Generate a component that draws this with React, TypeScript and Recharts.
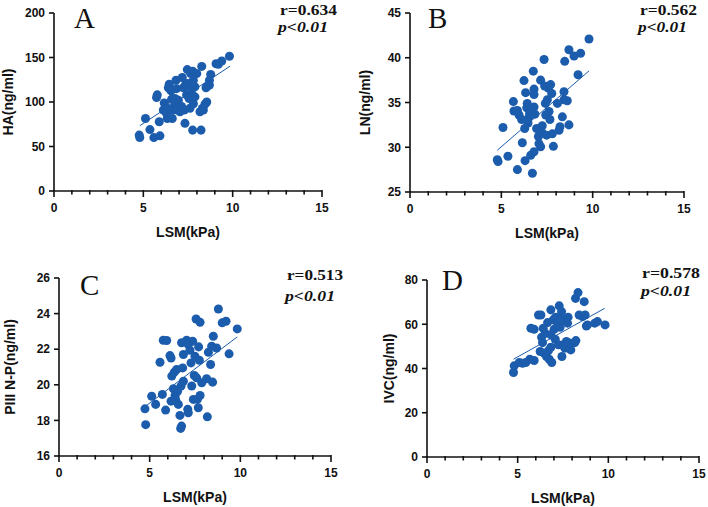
import React from "react";
import { ScatterChart, Scatter, XAxis, YAxis, ZAxis } from "recharts";

const BLUE = "#1c5cac";
const SANS = '"Liberation Sans", Arial, sans-serif';
const SERIF = '"Liberation Serif", "Times New Roman", serif';

// LSM axis, shared by all four panels
const lsmTicks = [0, 1, 2, 3, 4, 5, 6, 7, 8, 9, 10, 11, 12, 13, 14, 15];

// A: HA
const haTicks = [0, 50, 100, 150, 200];
const haPoints = [
  [4.77, 62.8], [4.8, 60], [5.12, 81.5], [5.37, 69], [5.59, 60], [5.93, 62], [5.89, 77.8],
  [5.74, 105], [5.78, 108], [6.17, 99], [6.25, 95], [6.3, 87], [6.34, 81.5], [6.4, 116],
  [6.45, 120], [6.55, 112.5], [6.58, 103], [6.68, 91], [6.71, 94.6], [6.62, 81.5], [6.83, 124.5],
  [6.86, 115], [6.92, 91], [7.05, 89], [7.18, 127.5], [7.24, 116], [7.29, 91], [7.33, 76],
  [7.42, 108], [7.46, 136.4], [7.52, 120.7], [7.56, 104], [7.61, 93], [7.65, 132], [7.67, 116],
  [7.7, 109.5], [7.76, 134.6], [7.8, 98], [7.89, 117], [7.76, 68.4], [7.89, 105.8], [7.99, 132],
  [8.17, 89], [8.23, 68.4], [8.27, 140], [8.36, 91], [8.45, 97.6], [8.51, 116], [8.58, 117.8],
  [8.7, 124.5], [8.77, 131], [8.7, 119], [9.07, 143], [9.2, 142.4], [9.39, 146], [9.82, 151.4],
  [8.55, 100], [8.3, 92.7], [6.96, 102], [7.14, 95], [6.12, 91], [6.77, 104], [7.38, 120.7],
  [7.8, 124.5],
];
const haFit = [[4.8, 73.3], [9.85, 140.2]];

// B: LN
const lnTicks = [25, 30, 35, 40, 45];
const lnPoints = [
  [4.78, 28.6], [4.82, 28.4], [5.09, 32.2], [5.36, 29], [5.69, 34.05], [5.66, 35.1], [5.88, 27.5],
  [5.97, 33.6], [6.11, 33.1], [6.15, 30.5], [6.24, 37.45], [6.33, 36.1], [6.28, 32.1], [6.3, 28.5],
  [6.39, 34.4], [6.42, 34.9], [6.46, 32.7], [6.55, 33.8], [6.61, 29.1], [6.7, 27.1], [6.75, 38.5],
  [6.79, 36.5], [6.79, 35.9], [6.79, 34.5], [6.79, 29.5], [6.84, 33.7], [6.93, 32.1], [7.03, 31.2],
  [7.06, 30.4], [7.15, 37.5], [7.24, 32.4], [7.24, 31.6], [7.34, 39.8], [7.37, 36.85], [7.41, 34.9],
  [7.43, 33.6], [7.48, 31.35], [7.52, 35.3], [7.57, 36.6], [7.61, 34], [7.66, 33.1], [7.7, 37],
  [7.76, 36], [7.79, 31.5], [7.85, 30.1], [8.07, 34.9], [8.16, 31.9], [8.21, 32.3], [8.34, 33.4],
  [8.43, 36.2], [8.43, 35.3], [8.61, 35.2], [8.7, 32.5], [8.47, 39.6], [8.7, 40.9], [8.98, 40.2],
  [9.34, 40.5], [9.2, 38.1], [9.8, 42.1], [7.15, 30.05], [6.7, 34.3], [5.88, 34.1], [6.52, 33.4],
];
const lnFit = [[4.78, 29.67], [9.8, 38.53]];

// C: PIII N-P
const p3Ticks = [16, 18, 20, 22, 24, 26];
const p3Points = [
  [4.74, 18.65], [4.78, 17.76], [5.11, 19.36], [5.33, 18.9], [5.57, 21.27], [5.7, 19.46],
  [5.75, 22.5], [5.94, 22.49], [5.88, 18.58], [6.12, 21.64], [6.18, 21.5], [6.18, 19.08],
  [6.22, 20.49], [6.31, 19.78], [6.36, 20.71], [6.4, 19.4], [6.43, 19.18], [6.49, 20.86],
  [6.54, 19.64], [6.58, 18.9], [6.67, 18.28], [6.71, 17.55], [6.76, 17.68], [6.76, 22.36],
  [6.73, 19.93], [6.82, 20.95], [6.86, 20.2], [7.04, 22.5], [7.1, 18.62], [7.13, 18.43],
  [7.22, 21.94], [7.28, 21.23], [7.32, 19.93], [7.37, 22.45], [7.41, 19.18], [7.46, 20.52],
  [7.5, 21.6], [7.56, 23.7], [7.59, 20.39], [7.63, 19.18], [7.7, 22.13], [7.78, 23.51],
  [7.74, 21.38], [7.68, 18.71], [7.78, 19.4], [7.87, 20.11], [8.14, 20.34], [8.18, 18.2],
  [8.24, 21.83], [8.36, 21.14], [8.42, 22.17], [8.47, 20.15], [8.51, 22.73], [8.69, 22.07],
  [8.79, 24.26], [9.0, 23.48], [9.21, 23.57], [9.38, 21.74], [9.83, 23.14], [7.13, 22.26],
  [6.86, 21.7],
];
const p3Fit = [[4.74, 18.77], [9.83, 22.69]];

// D: IVC
const ivcTicks = [0, 20, 40, 60, 80];
const ivcPoints = [
  [4.77, 38.2], [4.81, 41.2], [5.09, 42.7], [5.27, 42.4], [5.45, 42.7], [5.67, 44.2], [5.91, 43.6],
  [5.73, 58.2], [5.91, 57.7], [6.15, 64.2], [6.28, 64.2], [6.24, 47.7], [6.32, 54.1], [6.37, 51.7],
  [6.41, 58.2], [6.46, 46.9], [6.52, 55.9], [6.59, 45.4], [6.65, 60.75], [6.7, 48.1], [6.74, 44.2],
  [6.83, 66.5], [6.83, 55.2], [6.88, 42.7], [6.96, 62], [7.01, 57.7], [7.07, 53.2], [7.1, 63.2],
  [7.2, 60.5], [7.25, 50.7], [7.29, 68.3], [7.34, 58.6], [7.38, 62.7], [7.42, 65.7], [7.44, 45.4],
  [7.51, 50.7], [7.56, 62], [7.6, 49.2], [7.69, 52.2], [7.75, 60.5], [7.78, 63.2], [7.8, 49.2],
  [7.89, 51.4], [7.93, 48.4], [8.15, 51.7], [8.19, 71.7], [8.33, 74.3], [8.39, 64.2], [8.57, 63.5],
  [8.67, 70.2], [8.72, 64.2], [8.79, 59.2], [8.85, 59.7], [9.25, 60.5], [9.4, 61.2], [9.82, 59.7],
  [8.21, 52.6], [6.83, 49.6],
];
const ivcFit = [[4.77, 44.2], [9.8, 67.2]];

const toXY = (arr: number[][]) => arr.map(([x, y]) => ({ x, y }));

// major ticks every 5 with a label, short minor ticks in between
function LsmTick(props: any) {
  const { x, y, payload } = props;
  const major = payload.value % 5 === 0;
  return (
    <g>
      <line x1={x} x2={x} y1={y - 1} y2={y + (major ? 6 : 3.5)} stroke="#111" strokeWidth={1.6} />
      {major && (
        <text x={x} y={y + 21} textAnchor="middle" fill="#111" fontSize={12} fontWeight={700} fontFamily={SANS}>
          {payload.value}
        </text>
      )}
    </g>
  );
}

function Panel(props: any) {
  const { left, top, width, height, margin, yWidth, yLabel, yLabelOffset, yTicks, points, fit } = props;
  return (
    <div style={{ position: "absolute", left, top }}>
      <ScatterChart width={width} height={height} margin={margin}>
        <XAxis
          type="number"
          dataKey="x"
          domain={[0, 15]}
          ticks={lsmTicks}
          interval={0}
          height={50}
          tickSize={0}
          tickMargin={0}
          tickLine={false}
          tick={<LsmTick />}
          axisLine={{ stroke: "#111", strokeWidth: 1.6 }}
          label={{ value: "LSM(kPa)", position: "insideBottom", offset: 4, fill: "#111", fontSize: 14, fontWeight: 700, fontFamily: SANS }}
        />
        <YAxis
          type="number"
          dataKey="y"
          domain={[yTicks[0], yTicks[yTicks.length - 1]]}
          ticks={yTicks}
          interval={0}
          width={yWidth}
          tickSize={5}
          tickMargin={4}
          tickLine={{ stroke: "#111", strokeWidth: 1.6 }}
          axisLine={{ stroke: "#111", strokeWidth: 1.6 }}
          tick={{ fill: "#111", fontSize: 12, fontWeight: 700, fontFamily: SANS }}
          label={{
            value: yLabel,
            angle: -90,
            position: "insideLeft",
            offset: yLabelOffset,
            fill: "#111",
            fontSize: 14,
            fontWeight: 700,
            fontFamily: SANS,
            style: { textAnchor: "middle" },
          }}
        />
        <ZAxis range={[38, 38]} />
        <Scatter data={toXY(points)} fill={BLUE} isAnimationActive={false} />
        <Scatter
          data={toXY(fit)}
          line={{ stroke: BLUE, strokeWidth: 1 }}
          shape={() => <g />}
          isAnimationActive={false}
        />
      </ScatterChart>
    </div>
  );
}

function Note(props: any) {
  const { letter, lx, ly, r, rx, ry, rw, px, py, pw } = props;
  return (
    <g fill="#111" fontFamily={SERIF}>
      <text x={lx} y={ly} fontSize={29}>{letter}</text>
      <text x={rx} y={ry} fontSize={14} fontWeight={700} textLength={rw} lengthAdjust="spacingAndGlyphs">{r}</text>
      <text x={px} y={py} fontSize={14} fontWeight={700} fontStyle="italic" textLength={pw} lengthAdjust="spacingAndGlyphs">p&lt;0.01</text>
    </g>
  );
}

export default function App() {
  return (
    <div style={{ position: "absolute", left: 0, top: 0, width: 708, height: 507, background: "#fff" }}>
      <Panel left={0} top={0} width={354} height={253} margin={{ top: 13, right: 32, bottom: 12, left: 0 }}
        yWidth={54} yLabel="HA(ng/ml)" yLabelOffset={8} yTicks={haTicks} points={haPoints} fit={haFit} />
      <Panel left={354} top={0} width={354} height={253} margin={{ top: 13, right: 24, bottom: 11, left: 0 }}
        yWidth={56} yLabel="LN(ng/ml)" yLabelOffset={11} yTicks={lnTicks} points={lnPoints} fit={lnFit} />
      <Panel left={0} top={253} width={354} height={254} margin={{ top: 25, right: 23, bottom: 1, left: 0 }}
        yWidth={59} yLabel="PIII N-P(ng/ml)" yLabelOffset={10} yTicks={p3Ticks} points={p3Points} fit={p3Fit} />
      <Panel left={354} top={253} width={354} height={254} margin={{ top: 27, right: 9, bottom: 0, left: 0 }}
        yWidth={73} yLabel="IVC(ng/ml)" yLabelOffset={35} yTicks={ivcTicks} points={ivcPoints} fit={ivcFit} />
      <svg width={708} height={507} style={{ position: "absolute", left: 0, top: 0, pointerEvents: "none" }}>
        <Note letter="A" lx={74} ly={28} r="r=0.634" rx={280} ry={15} rw={57} px={278} py={32} pw={50} />
        <Note letter="B" lx={428} ly={28} r="r=0.562" rx={640} ry={15} rw={57} px={638} py={32} pw={49} />
        <Note letter="C" lx={80} ly={295} r="r=0.513" rx={287} ry={280} rw={56} px={285} py={301} pw={50} />
        <Note letter="D" lx={442} ly={290} r="r=0.578" rx={642} ry={278} rw={58} px={641} py={296} pw={50} />
      </svg>
    </div>
  );
}
